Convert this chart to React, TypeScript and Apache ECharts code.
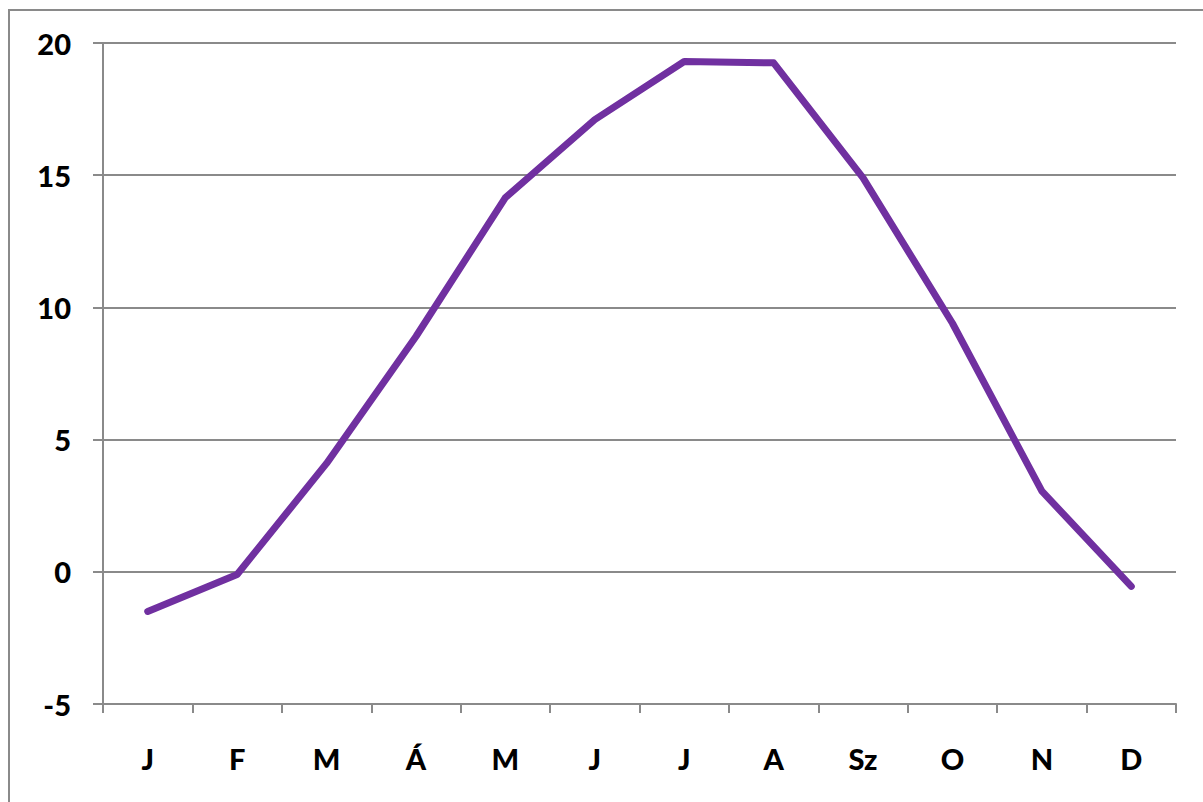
import React, { useEffect, useRef } from "react";
import * as echarts from "echarts";

const months = ["J", "F", "M", "Á", "M", "J", "J", "A", "Sz", "O", "N", "D"];
const temps = [-1.5, -0.1, 4.1, 8.9, 14.15, 17.1, 19.3, 19.25, 14.9, 9.4, 3.05, -0.55];
const yMin = -5;
const yMax = 20;
const yStep = 5;

export default function App() {
  const ref = useRef<HTMLDivElement>(null);
  useEffect(() => {
    const chart = echarts.init(ref.current!, null, { renderer: "svg" });
    const font = "Lato, 'Open Sans', sans-serif";
    chart.setOption({
      animation: false,
      backgroundColor: "#ffffff",
      graphic: [
        {
          type: "rect",
          shape: { x: 9, y: 10, width: 1400, height: 1000 },
          style: { fill: "none", stroke: "#8a8a8a", lineWidth: 2 },
          silent: true,
        },
      ],
      grid: { left: 103, top: 43, width: 1073, height: 661 },
      xAxis: {
        type: "category",
        data: months,
        boundaryGap: true,
        axisLine: { show: true, onZero: false, lineStyle: { color: "#8a8a8a", width: 2 } },
        axisTick: { show: true, length: 9, lineStyle: { color: "#8a8a8a", width: 2 } },
        axisLabel: { color: "#000", fontSize: 29, fontWeight: 900, fontFamily: font, margin: 40 },
        splitLine: { show: false },
      },
      yAxis: {
        type: "value",
        min: yMin,
        max: yMax,
        interval: yStep,
        axisLine: { show: true, lineStyle: { color: "#8a8a8a", width: 2 } },
        axisTick: { show: true, length: 10, lineStyle: { color: "#8a8a8a", width: 2 } },
        axisLabel: { color: "#000", fontSize: 29, fontWeight: 900, fontFamily: font, margin: 32 },
        splitLine: { show: true, lineStyle: { color: "#8a8a8a", width: 2 } },
      },
      series: [
        {
          type: "line",
          data: temps,
          symbol: "none",
          lineStyle: { color: "#7030a0", width: 7, cap: "round", join: "round" },
        },
      ],
    });
    return () => chart.dispose();
  }, []);
  return (
    <div
      ref={ref}
      style={{ position: "absolute", left: 0, top: 0, width: 1203, height: 802 }}
    />
  );
}
